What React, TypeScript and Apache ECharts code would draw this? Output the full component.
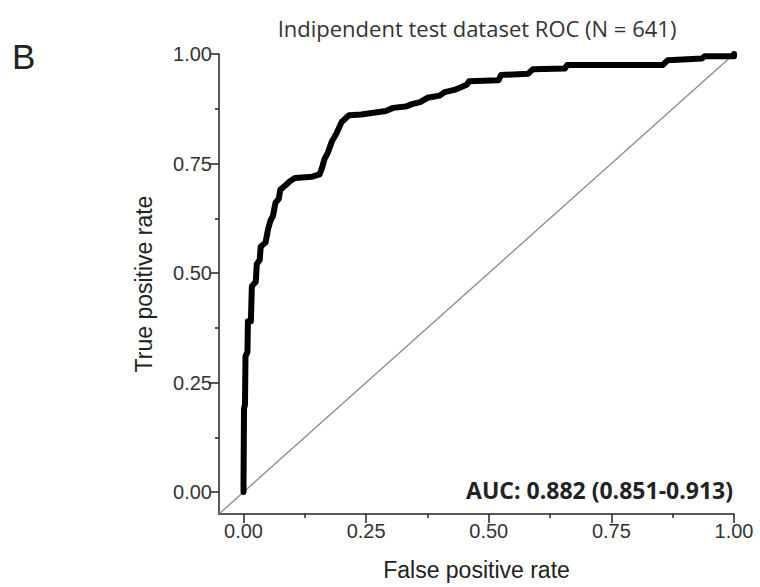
import React, { useEffect, useRef } from "react";
import * as echarts from "echarts";

const rocFpr = [0, 0, 0.001, 0.003, 0.004, 0.008, 0.009, 0.015, 0.017, 0.025, 0.027, 0.033, 0.035, 0.045, 0.05, 0.055, 0.06, 0.065, 0.072, 0.075, 0.085, 0.095, 0.105, 0.14, 0.155, 0.16, 0.165, 0.172, 0.18, 0.19, 0.2, 0.215, 0.24, 0.265, 0.29, 0.305, 0.33, 0.345, 0.36, 0.375, 0.4, 0.41, 0.43, 0.455, 0.46, 0.52, 0.525, 0.58, 0.59, 0.655, 0.66, 0.855, 0.865, 0.935, 0.94, 1, 1];
const rocTpr = [0, 0.02, 0.19, 0.2, 0.31, 0.32, 0.39, 0.39, 0.47, 0.48, 0.52, 0.53, 0.56, 0.57, 0.6, 0.62, 0.63, 0.66, 0.67, 0.69, 0.7, 0.71, 0.717, 0.72, 0.725, 0.74, 0.76, 0.775, 0.8, 0.82, 0.845, 0.86, 0.862, 0.866, 0.87, 0.877, 0.88, 0.886, 0.89, 0.9, 0.905, 0.913, 0.918, 0.93, 0.938, 0.94, 0.952, 0.955, 0.965, 0.967, 0.975, 0.975, 0.986, 0.99, 0.995, 0.995, 1];
const diagonal = [[-0.05, -0.05], [1, 1]];
const majorTicks = [0, 0.25, 0.5, 0.75, 1];
const minorTicks = [0.125, 0.375, 0.625, 0.875];
const titleText = "Indipendent test dataset ROC (N = 641)";
const aucText = "AUC: 0.882 (0.851-0.913)";
const panelLabel = "B";

export default function App() {
  const ref = useRef<HTMLDivElement>(null);
  useEffect(() => {
    if (!ref.current) return;
    const chart = echarts.init(ref.current, null, { renderer: "svg" });
    const labelFont = "'Liberation Sans', Arial, sans-serif";
    const lineCol = "#222";
    const mkAxis = (isMajor: boolean, name: string, isY: boolean) => ({
      type: "value",
      min: -0.05,
      max: 1,
      position: isY ? "left" : "bottom",
      name: isMajor ? name : "",
      nameLocation: "middle",
      nameGap: isY ? 64 : 44,
      nameTextStyle: { fontFamily: labelFont, fontSize: 23, color: "#222" },
      axisLine: { show: isMajor, onZero: false, lineStyle: { color: lineCol, width: 1.5 } },
      axisTick: {
        show: true,
        inside: false,
        length: isMajor ? 9 : 4,
        customValues: isMajor ? majorTicks : minorTicks,
        lineStyle: { color: lineCol, width: 1.5 },
      },
      axisLabel: {
        show: isMajor,
        customValues: majorTicks,
        formatter: (v: number) => v.toFixed(2),
        fontFamily: labelFont,
        fontSize: 20,
        color: "#333",
        margin: 7,
      },
      splitLine: { show: false },
    });
    chart.setOption({
      animation: false,
      backgroundColor: "#fff",
      grid: { left: 219, right: 26, top: 54, bottom: 73, containLabel: false, outerBoundsMode: "none" },
      xAxis: [mkAxis(true, "False positive rate", false), mkAxis(false, "", false)],
      yAxis: [mkAxis(true, "True positive rate", true), mkAxis(false, "", true)],
      series: [
        {
          type: "line",
          data: diagonal,
          symbol: "none",
          lineStyle: { color: "#8a8a8a", width: 1.3 },
          z: 1,
        },
        {
          type: "line",
          data: rocFpr.map((x, i) => [x, rocTpr[i]]),
          symbol: "none",
          lineStyle: { color: "#000", width: 6, cap: "round", join: "round" },
          z: 2,
        },
      ],
      graphic: [
        {
          type: "text",
          x: 477,
          y: 28,
          style: {
            text: titleText,
            align: "center",
            verticalAlign: "middle",
            fontFamily: "'Open Sans', 'Noto Sans', sans-serif",
            fontSize: 22,
            fill: "#333",
          },
        },
        {
          type: "text",
          x: 12,
          y: 56,
          style: {
            text: panelLabel,
            verticalAlign: "middle",
            fontFamily: labelFont,
            fontSize: 35,
            fill: "#222",
          },
        },
        {
          type: "text",
          x: 733,
          y: 490,
          style: {
            text: aucText,
            align: "right",
            verticalAlign: "middle",
            fontFamily: "'Open Sans', 'Noto Sans', sans-serif",
            fontWeight: "bold",
            fontSize: 23,
            fill: "#222",
          },
        },
      ],
    });
    return () => chart.dispose();
  }, []);
  return <div ref={ref} style={{ width: 760, height: 587, position: "absolute", left: 0, top: 0 }} />;
}
